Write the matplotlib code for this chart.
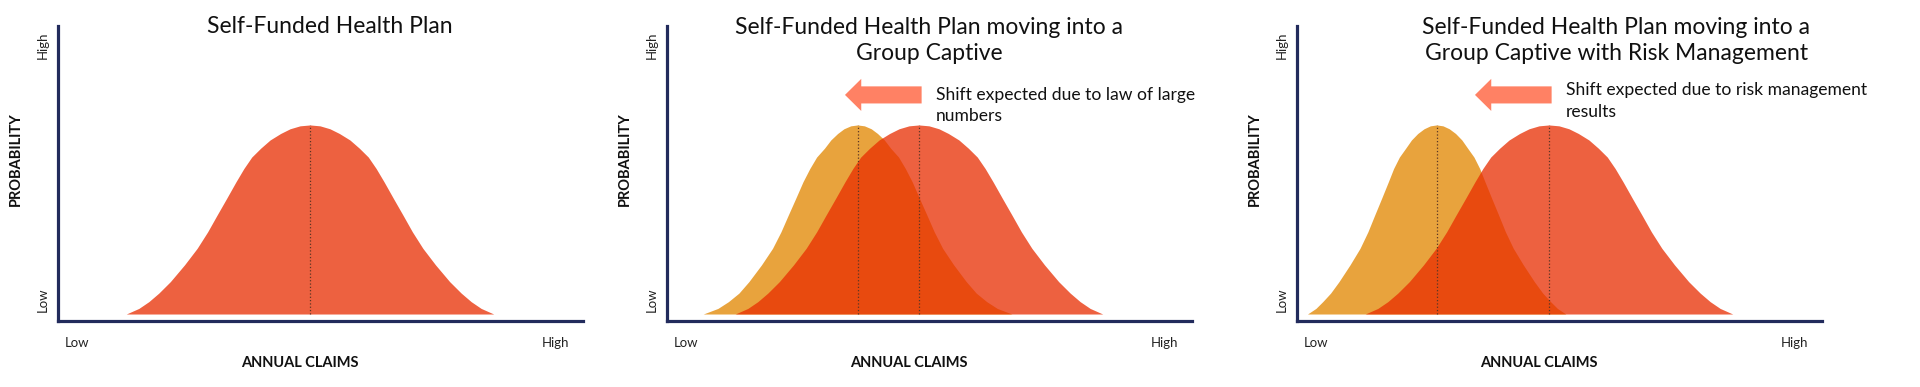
import matplotlib
matplotlib.use("Agg")
import matplotlib.pyplot as plt

plt.rcParams['font.family'] = ['Lato', 'DejaVu Sans']

# bell outlines: height levels and half-widths (0-100 scale)
heights = [2.2, 4.1, 6.4, 9.3, 13.2, 18.9, 24.5, 30.1, 35.8, 41.4, 47.1,
           51.6, 55.5, 58.5, 61.3, 63.5, 65.1, 66.1, 66.4]
red_hw = [35.0, 32.6, 30.7, 28.8, 26.6, 23.9, 21.5, 19.5, 17.7, 15.9, 14.1,
          12.6, 11.1, 9.4, 7.6, 5.6, 3.8, 1.9, 0]
orange_lln_hw = [29.4, 26.6, 24.6, 22.6, 20.7, 18.3, 16.2, 14.6, 13.2, 11.8, 10.4,
                 9.1, 7.8, 6.3, 5.1, 3.8, 2.6, 1.3, 0]
orange_rm_hw = [24.6, 23.0, 21.7, 20.2, 18.6, 16.5, 14.6, 13.1, 11.8, 10.5, 9.2,
                8.2, 7.1, 5.9, 4.8, 3.6, 2.4, 1.2, 0]

red_center = 48.0
orange_centers = [None, 36.3, 26.6]
orange_widths = [None, orange_lln_hw, orange_rm_hw]

titles = ["Self-Funded Health Plan",
          "Self-Funded Health Plan moving into a\nGroup Captive",
          "Self-Funded Health Plan moving into a\nGroup Captive with Risk Management"]
title_x = [51.8, 49.9, 60.8]
notes = [None,
         "Shift expected due to law of large\nnumbers",
         "Shift expected due to risk management\nresults"]
note_y = [None, 73.0, 74.5]

RED = (232/255, 44/255, 0, 0.75)
ORANGE = '#E8A33D'
ARROW = '#FF8164'
NAVY = '#222B5C'
DOT = '#5a3524'


def bell(ax, center, hw, color):
    xs = [center - w for w in hw] + [center + w for w in hw[::-1]]
    ys = heights + heights[::-1]
    ax.fill_between(xs, heights[0], ys, color=color, lw=0)
    ax.vlines(center, heights[0], heights[-1], colors=DOT, linestyles=':', lw=0.9)


fig = plt.figure(figsize=(19.2, 3.87), dpi=100)
lefts = [58 / 1920, 667 / 1920, 1297 / 1920]

for i in range(3):
    ax = fig.add_axes([lefts[i], 1 - 320.5 / 387, 525 / 1920, 294.5 / 387])
    ax.set_xlim(0, 100)
    ax.set_ylim(0, 100)
    for s in ['top', 'right']:
        ax.spines[s].set_visible(False)
    for s in ['left', 'bottom']:
        ax.spines[s].set_color(NAVY)
        ax.spines[s].set_linewidth(2.3)
    ax.set_xticks([])
    ax.set_yticks([])

    if orange_centers[i] is not None:
        bell(ax, orange_centers[i], orange_widths[i], ORANGE)
    bell(ax, red_center, red_hw, RED)

    ax.text(title_x[i], 99.8 if i == 0 else 95.0, titles[i], ha='center', va='center',
            fontsize=16.5, color='#111111', linespacing=1.3, clip_on=False)

    if notes[i] is not None:
        ax.arrow(48.5, 76.6, -14.6, 0, width=5.8, head_width=10.9, head_length=3.1,
                 length_includes_head=True, color=ARROW, lw=0)
        ax.text(51.2, note_y[i], notes[i], ha='left', va='center', fontsize=12.6,
                color='#111111', linespacing=1.4)

    # axis wording
    ax.text(-2.9, 93.5, "High", rotation=90, ha='center', va='center', fontsize=9.5,
            color='#222222', clip_on=False)
    ax.text(-2.9, 7.0, "Low", rotation=90, ha='center', va='center', fontsize=9.5,
            color='#222222', clip_on=False)
    ax.text(3.6, -7.7, "Low", ha='center', va='center', fontsize=9.5, color='#222222')
    ax.text(94.7, -7.7, "High", ha='center', va='center', fontsize=9.5, color='#222222')
    ax.text(46.0, -14.5, "ANNUAL CLAIMS", ha='center', va='center', fontsize=10.5,
            fontweight='bold', color='#111111')
    ax.text(-8.1, 54.8, "PROBABILITY", rotation=90, ha='center', va='center',
            fontsize=10.5, fontweight='bold', color='#111111', clip_on=False)

fig.savefig('out.png', dpi=100)
